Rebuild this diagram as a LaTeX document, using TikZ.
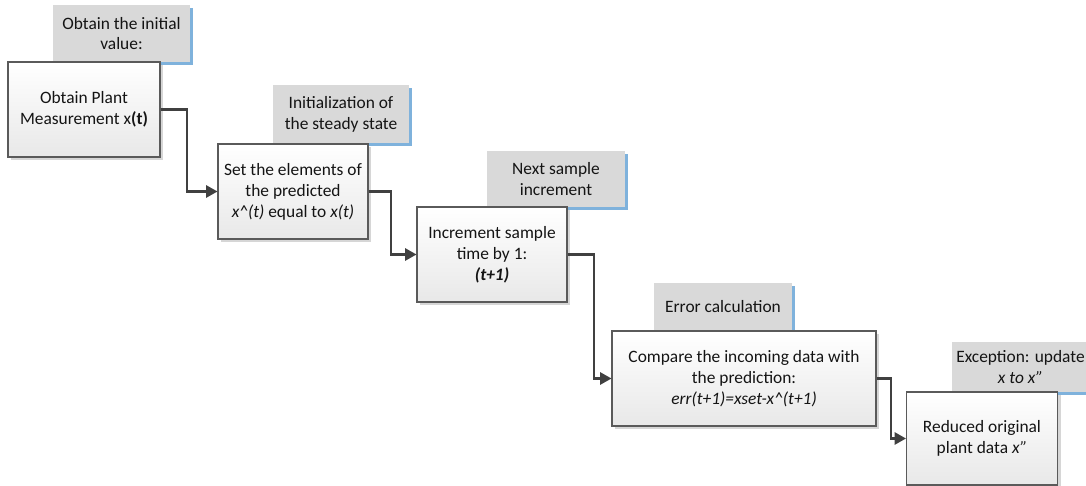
\documentclass[tikz,border=0pt]{standalone}
\usepackage{fontspec}
\setmainfont{Carlito}
\usetikzlibrary{shadows,arrows.meta}
\definecolor{edge}{HTML}{5A5A5A}
\definecolor{tabfill}{HTML}{D9D9D9}
\definecolor{tabblue}{HTML}{7FB2DC}
\definecolor{wire}{HTML}{404040}
\definecolor{ink}{HTML}{141414}
\tikzset{
  stepbox/.style={draw=edge, line width=0.6pt, top color=white, bottom color=black!9,
    text=ink, align=center, font=\fontsize{9.9}{11.9}\selectfont, inner sep=0pt,
    general shadow={fill=black!16, shadow xshift=0.065cm, shadow yshift=-0.065cm}},
  tab/.style={fill=tabfill, text=ink, align=center, font=\fontsize{9.9}{11.9}\selectfont, inner sep=0pt,
    general shadow={fill=tabblue, shadow xshift=0.06cm, shadow yshift=-0.06cm}},
  flow/.style={draw=wire, line width=1.15pt, -{Triangle[length=6.5pt,width=7pt]}}
}
\begin{document}
\begin{tikzpicture}[x=0.02cm,y=-0.02cm]
\useasboundingbox (0,0) rectangle (1086,486);

% captions sitting on top of each step
\node[tab, minimum width={137*0.02cm}, minimum height={57*0.02cm}] (t1) at (121.5,33.5)
  {Obtain the initial\\value:};
\node[tab, minimum width={136*0.02cm}, minimum height={58*0.02cm}] (t2) at (341,114)
  {Initialization of\\the steady state};
\node[tab, minimum width={138*0.02cm}, minimum height={56*0.02cm}] (t3) at (556,179)
  {Next sample\\increment};
\node[tab, minimum width={138*0.02cm}, minimum height={48*0.02cm}] (t4) at (723,307)
  {Error calculation};
\node[tab, minimum width={137*0.02cm}, minimum height={50*0.02cm}] (t5) at (1020.5,367)
  {Exception: update\\\textit{x to x”}};

% process steps
\node[stepbox, minimum width={152*0.02cm}, minimum height={95*0.02cm}] (b1) at (84,109.5)
  {Obtain Plant\\Measurement x\textbf{(t)}};
\node[stepbox, minimum width={150*0.02cm}, minimum height={95*0.02cm}] (b2) at (293,191.5)
  {Set the elements of\\the predicted\\\textit{x\^{}(t)} equal to \textit{x(t)}};
\node[stepbox, minimum width={150*0.02cm}, minimum height={95*0.02cm}] (b3) at (492,254.5)
  {Increment sample\\time by 1:\\\textbf{\textit{(t+1)}}};
\node[stepbox, minimum width={264*0.02cm}, minimum height={95*0.02cm}] (b4) at (744,378.5)
  {Compare the incoming data with\\the prediction:\\\textit{err(t+1)=xset-x\^{}(t+1)}};
\node[stepbox, minimum width={151*0.02cm}, minimum height={93*0.02cm}] (b5) at (982,438.5)
  {Reduced original\\plant data \textit{x”}};

% elbow connectors between steps
\draw[flow] (b1.east) -- ++(26,0) |- (b2.west);
\draw[flow] (b2.east) -- ++(22,0) |- (b3.west);
\draw[flow] (b3.east) -- ++(26,0) |- (b4.west);
\draw[flow] (b4.east) -- ++(14,0) |- (b5.west);
\end{tikzpicture}
\end{document}
